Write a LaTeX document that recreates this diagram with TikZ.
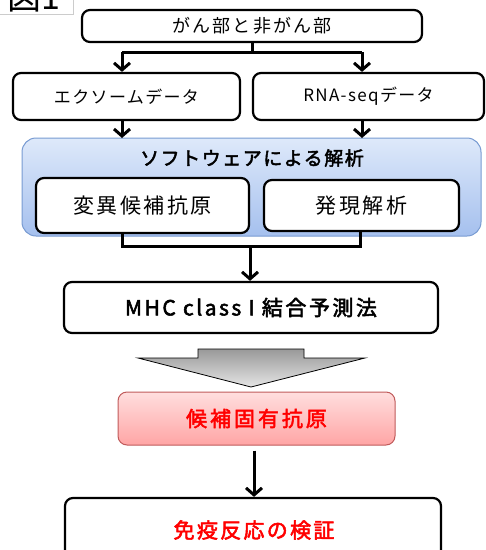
\documentclass[tikz,border=0pt]{standalone}
\usepackage{fontspec}
\setmainfont{Noto Sans CJK JP}
\newfontfamily\jpb{Noto Sans CJK JP}[FakeBold=2.5]
\usetikzlibrary{arrows.meta}
\tikzset{
  box/.style={draw=black, line width=2.2pt, rounded corners=8pt, fill=white, inner sep=0pt, align=center},
  conn/.style={line width=3pt, draw=black},
  arr/.style={conn, -{Straight Barb[length=7pt,width=16pt,line width=3pt]}},
}
\newcommand{\lspc}[1]{\addfontfeatures{LetterSpace=#1}}
\begin{document}
\begin{tikzpicture}[x=1pt,y=-1pt]
\useasboundingbox (0,0) rectangle (486,550);
\begin{scope}
\clip (0,0) rectangle (486,550);
% label tab
\node[draw=black!20, line width=0.6pt, fill=white, minimum width=74pt, minimum height=30pt, anchor=south west, inner sep=0pt] (lab) at (-1,15) {};
\node[anchor=south, inner sep=0pt, font=\fontsize{34}{34}\selectfont] (labt) at (34,12) {図1};
% boxes
\node[box, minimum width=340pt, minimum height=32pt, font=\fontsize{18}{18}\selectfont\lspc{12}] (top) at (252,26) {がん部と非がん部};
\node[box, minimum width=227pt, minimum height=47pt, font=\fontsize{17}{17}\selectfont\lspc{8}] (exo) at (126.5,96.5) {エクソームデータ};
\node[box, minimum width=231pt, minimum height=47pt, font=\fontsize{17}{17}\selectfont\lspc{8}] (rna) at (368.5,96.5) {RNA-seqデータ};
\node[draw={rgb,255:red,120;green,155;blue,210}, line width=1pt, rounded corners=14pt, top color={rgb,255:red,222;green,233;blue,250}, bottom color={rgb,255:red,165;green,192;blue,238}, minimum width=459pt, minimum height=98pt, inner sep=0pt] (soft) at (251.5,187) {};
\node[font=\jpb\fontsize{19}{19}\selectfont\lspc{8}, inner sep=0pt] (softt) at (252,158) {ソフトウェアによる解析};
\node[box, minimum width=213pt, minimum height=55pt, font=\fontsize{21}{21}\selectfont\lspc{12}] (mut) at (142.5,205.5) {変異候補抗原};
\node[box, minimum width=195pt, minimum height=51pt, font=\fontsize{21}{21}\selectfont\lspc{12}] (exp) at (361.5,205.5) {発現解析};
\node[box, minimum width=374pt, minimum height=51pt, font=\jpb\fontsize{21}{21}\selectfont\lspc{12}] (mhc) at (251,307.5) {MHC class I 結合予測法};
\node[draw={rgb,255:red,192;green,90;blue,90}, line width=1pt, rounded corners=9pt, top color={rgb,255:red,255;green,222;blue,222}, bottom color={rgb,255:red,255;green,165;blue,165}, minimum width=277pt, minimum height=53pt, inner sep=0pt, text=red, font=\jpb\fontsize{21}{21}\selectfont\lspc{14}] (cand) at (256.5,418.5) {候補固有抗原};
\node[box, minimum width=376pt, minimum height=62pt] (ver) at (253,529) {};
\node[text=red, font=\jpb\fontsize{21}{21}\selectfont\lspc{11}, inner sep=0pt] (vert) at (254,530) {免疫反応の検証};
% connectors
\coordinate (j1) at (top.south |- 0,52);
\draw[conn] (top.south) -- (j1);
\draw[conn] (j1) -| (122,52) coordinate (jl);
\draw[conn] (j1) -| (362,52) coordinate (jr);
\draw[arr] (jl) -- (jl |- exo.north);
\draw[arr] (jr) -- (jr |- rna.north);
\draw[arr] (exo.south -| 122,0) -- (122,138);
\draw[arr] (rna.south -| 362,0) -- (362,138);
\coordinate (ml) at (122,246);
\coordinate (mr) at (360,246);
\draw[conn] (mut.south -| ml) -- (ml) -- (mr) -- (exp.south -| mr);
\draw[arr] (250,246) -- (mhc.north -| 250,0);
% big arrow
\draw[line width=0.8pt, top color=black!40, bottom color=black!10] (198,349) -- (304,349) -- (304,358) -- (365,358) -- (251,387) -- (138,358) -- (198,358) -- cycle;
\draw[arr] (cand.south -| 254,0) ++(0,5) -- (ver.north -| 254,0);
\end{scope}
\end{tikzpicture}
\end{document}
